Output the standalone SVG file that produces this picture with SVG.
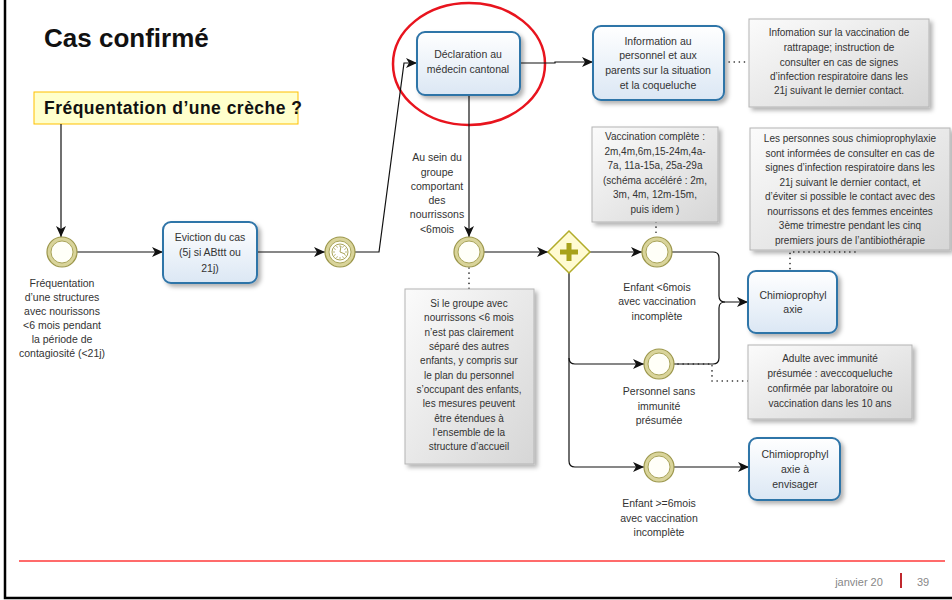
<svg xmlns="http://www.w3.org/2000/svg" width="952" height="600" viewBox="0 0 952 600">
<style>
text{font-family:"Liberation Sans",Arial,sans-serif;fill:#333;text-anchor:middle}
.t{font-size:10.5px}
.s{font-size:10px}
.task{fill:url(#gt);stroke:#2f74a8;stroke-width:2;filter:url(#sh)}
.ann{fill:url(#ga);stroke:#b4b4b4;stroke-width:1;filter:url(#sh)}
.flow{fill:none;stroke:#111;stroke-width:1.2;marker-end:url(#ah)}
.fl{fill:none;stroke:#111;stroke-width:1.2}
.dot{fill:none;stroke:#222;stroke-width:1.6;stroke-dasharray:0.1 5;stroke-linecap:round}
.evo{fill:#d9d49a;stroke:#9c974c;stroke-width:1.2}
.evi{fill:#fffff8;stroke:#a9a45a;stroke-width:1}
</style>
<defs>
<linearGradient id="gt" x1="0" y1="0" x2="0" y2="1"><stop offset="0" stop-color="#ffffff"/><stop offset="1" stop-color="#dbe7f4"/></linearGradient>
<linearGradient id="ga" x1="0" y1="0" x2="1" y2="1"><stop offset="0" stop-color="#fbfbfb"/><stop offset="1" stop-color="#d6d6d6"/></linearGradient>
<filter id="sh" x="-10%" y="-10%" width="130%" height="130%"><feDropShadow dx="3" dy="3" stdDeviation="2" flood-color="#000" flood-opacity="0.3"/></filter>
<marker id="ah" markerUnits="userSpaceOnUse" markerWidth="12" markerHeight="10" refX="11" refY="5" orient="auto"><path d="M0,0 L11,5 L0,10 L3,5 z" fill="#111"/></marker>
</defs>
<rect width="952" height="600" fill="#fff"/>
<path d="M5,0 V598 H952" fill="none" stroke="#000" stroke-width="2.5"/>
<line x1="19" y1="561" x2="945" y2="561" stroke="#ff6b6b" stroke-width="2"/>
<text x="859" y="586" style="font-size:11px;fill:#888">janvier 20</text>
<line x1="901" y1="573" x2="901" y2="588" stroke="#c0282d" stroke-width="2"/>
<text x="923" y="586" style="font-size:11px;fill:#888">39</text>
<text x="44" y="47" style="font-size:26px;font-weight:bold;fill:#111;text-anchor:start">Cas confirmé</text>
<g id="q">
<rect x="34" y="92" width="264" height="32" fill="#ffffcc" stroke="#ffc000" stroke-width="1"/>
<text x="44" y="114" textLength="258" lengthAdjust="spacing" style="font-size:17.5px;font-weight:bold;fill:#111;text-anchor:start">Fréquentation d’une crèche ?</text>
</g>
<ellipse cx="469" cy="64" rx="76" ry="61" fill="none" stroke="#e8141e" stroke-width="2.5"/>
<g id="connectors">
<path class="flow" d="M61,124 V237"/>
<path class="flow" d="M77,252 H163"/>
<path class="flow" d="M257,252 H325"/>
<path class="flow" d="M355,252 H379 L404,63 H417"/>
<path class="flow" d="M520,63 H555 V62 H593"/>
<path class="flow" d="M469,95 V237"/>
<path class="flow" d="M484,252 H548"/>
<path class="flow" d="M590,252 H642"/>
<path class="flow" d="M569,273 V461 Q569,467 575,467 H644"/>
<path class="flow" d="M569,358 Q569,364 575,364 H644"/>
<path class="flow" d="M672,252 H713 Q719,252 719,258 V296 Q719,302 725,302 H748"/>
<path class="fl" d="M674,364 H713 Q719,364 719,358 V308 Q719,302 725,302"/>
<path class="flow" d="M674,467 H749"/>
<path class="dot" d="M724,62 H749"/>
<path class="dot" d="M469,268 V289"/>
<path class="dot" d="M656,222 V237"/>
<path class="dot" d="M855,252 H790 V271"/>
<path class="dot" d="M678,364 H712 V381 H748"/>
</g>
<g id="start">
<circle class="evo" cx="62" cy="252" r="15"/><circle class="evi" cx="62" cy="252" r="11"/>
<text class="t" x="62" y="287">Fréquentation</text>
<text class="t" x="62" y="301">d’une structures</text>
<text class="t" x="62" y="315">avec nourissons</text>
<text class="t" x="62" y="329">&lt;6 mois pendant</text>
<text class="t" x="62" y="343">la période de</text>
<text class="t" x="62" y="357">contagiosité (&lt;21j)</text>
</g>
<g id="eviction">
<rect class="task" x="163" y="222" width="94" height="61" rx="8"/>
<text class="t" x="210" y="241">Eviction du cas</text>
<text class="t" x="210" y="256">(5j si ABttt ou</text>
<text class="t" x="210" y="272">21j)</text>
</g>
<g id="timer">
<circle class="evo" cx="340" cy="252" r="15"/><circle class="evi" cx="340" cy="252" r="11"/>
<circle cx="340" cy="252" r="8" fill="#fff" stroke="#a9a45a" stroke-width="1"/>
<path d="M340,245 V247 M340,257 V259 M333,252 H335 M345,252 H347 M336.5,246 L337.5,247.7 M343.5,246 L342.5,247.7 M336.5,258 L337.5,256.3 M343.5,258 L342.5,256.3 M334,248.5 L335.7,249.5 M346,248.5 L344.3,249.5 M334,255.5 L335.7,254.5 M346,255.5 L344.3,254.5" stroke="#a9a45a" stroke-width="0.8"/>
<path d="M340,252 L341,246 M340,252 L345,254" stroke="#a9a45a" stroke-width="1"/>
</g>
<g id="declaration">
<rect class="task" x="417" y="32" width="103" height="63" rx="8"/>
<text class="t" x="468" y="58">Déclaration au</text>
<text class="t" x="468" y="73">médecin cantonal</text>
</g>
<g id="information">
<rect class="task" x="593" y="26" width="131" height="74" rx="8"/>
<text class="t" x="658" y="45">Information au</text>
<text class="t" x="658" y="59">personnel et aux</text>
<text class="t" x="658" y="74">parents sur la situation</text>
<text class="t" x="658" y="89">et la coqueluche</text>
</g>
<g id="ann1">
<rect class="ann" x="749" y="19" width="180" height="88"/>
<text class="s" x="839" y="36">Infomation sur la vaccination de</text>
<text class="s" x="839" y="51">rattrapage; instruction de</text>
<text class="s" x="839" y="66">consulter en cas de signes</text>
<text class="s" x="839" y="80">d’infection respiratoire dans les</text>
<text class="s" x="839" y="94">21j suivant le dernier contact.</text>
</g>
<g id="group">
<circle class="evo" cx="469" cy="252" r="15"/><circle class="evi" cx="469" cy="252" r="11"/>
<text class="t" x="437" y="161">Au sein du</text>
<text class="t" x="437" y="176">groupe</text>
<text class="t" x="437" y="190">comportant</text>
<text class="t" x="437" y="204">des</text>
<text class="t" x="437" y="218">nourrissons</text>
<text class="t" x="437" y="233">&lt;6mois</text>
</g>
<g id="ann2">
<rect class="ann" x="405" y="289" width="129" height="175"/>
<text class="s" x="469" y="307">Si le groupe avec</text>
<text class="s" x="469" y="321">nourrissons &lt;6 mois</text>
<text class="s" x="469" y="336">n’est pas clairement</text>
<text class="s" x="469" y="350">séparé des autres</text>
<text class="s" x="469" y="364">enfants, y compris sur</text>
<text class="s" x="469" y="379">le plan du personnel</text>
<text class="s" x="469" y="393">s’occupant des enfants,</text>
<text class="s" x="469" y="407">les mesures peuvent</text>
<text class="s" x="469" y="422">être étendues à</text>
<text class="s" x="469" y="436">l’ensemble de la</text>
<text class="s" x="469" y="450">structure d’accueil</text>
</g>
<g id="gateway">
<path d="M569,231 L590,252 L569,273 L548,252 Z" fill="#fffbd2" stroke="#b2ac2a" stroke-width="1.5"/>
<path d="M569,243 V261 M560,252 H578" stroke="#a8a21a" stroke-width="5"/>
</g>
<g id="ann3">
<rect class="ann" x="592" y="127" width="126" height="95"/>
<text class="s" x="655" y="140">Vaccination complète :</text>
<text class="s" x="655" y="155">2m,4m,6m,15-24m,4a-</text>
<text class="s" x="655" y="169">7a, 11a-15a, 25a-29a</text>
<text class="s" x="655" y="184">(schéma accéléré : 2m,</text>
<text class="s" x="655" y="198">3m, 4m, 12m-15m,</text>
<text class="s" x="655" y="213">puis idem )</text>
</g>
<g id="enfant6">
<circle class="evo" cx="657" cy="252" r="15"/><circle class="evi" cx="657" cy="252" r="11"/>
<text class="t" x="657" y="291">Enfant &lt;6mois</text>
<text class="t" x="657" y="305">avec vaccination</text>
<text class="t" x="657" y="320">incomplète</text>
</g>
<g id="personnel">
<circle class="evo" cx="659" cy="364" r="15"/><circle class="evi" cx="659" cy="364" r="11"/>
<text class="t" x="659" y="395">Personnel sans</text>
<text class="t" x="659" y="410">immunité</text>
<text class="t" x="659" y="424">présumée</text>
</g>
<g id="enfant6plus">
<circle class="evo" cx="659" cy="467" r="15"/><circle class="evi" cx="659" cy="467" r="11"/>
<text class="t" x="659" y="507">Enfant &gt;=6mois</text>
<text class="t" x="659" y="522">avec vaccination</text>
<text class="t" x="659" y="536">incomplète</text>
</g>
<g id="ann5">
<rect class="ann" x="750" y="128" width="200" height="122"/>
<text class="s" x="850" y="142">Les personnes sous chimioprophylaxie</text>
<text class="s" x="850" y="157">sont informées de consulter en cas de</text>
<text class="s" x="850" y="171">signes d’infection respiratoire dans les</text>
<text class="s" x="850" y="186">21j suivant le dernier contact, et</text>
<text class="s" x="850" y="200">d’éviter si possible le contact avec des</text>
<text class="s" x="850" y="215">nourrissons et des femmes enceintes</text>
<text class="s" x="850" y="229">3ème trimestre pendant les cinq</text>
<text class="s" x="850" y="244">premiers jours de l’antibiothérapie</text>
</g>
<g id="chimio1">
<rect class="task" x="748" y="271" width="89" height="62" rx="8"/>
<text class="t" x="793" y="299">Chimioprophyl</text>
<text class="t" x="793" y="313">axie</text>
</g>
<g id="ann4">
<rect class="ann" x="748" y="345" width="164" height="74"/>
<text class="s" x="830" y="362">Adulte avec immunité</text>
<text class="s" x="830" y="377">présumée : aveccoqueluche</text>
<text class="s" x="830" y="392">confirmée par laboratoire ou</text>
<text class="s" x="830" y="407">vaccination dans les 10 ans</text>
</g>
<g id="chimio2">
<rect class="task" x="749" y="438" width="91" height="62" rx="8"/>
<text class="t" x="795" y="458">Chimioprophyl</text>
<text class="t" x="795" y="473">axie à</text>
<text class="t" x="795" y="488">envisager</text>
</g>
</svg>
